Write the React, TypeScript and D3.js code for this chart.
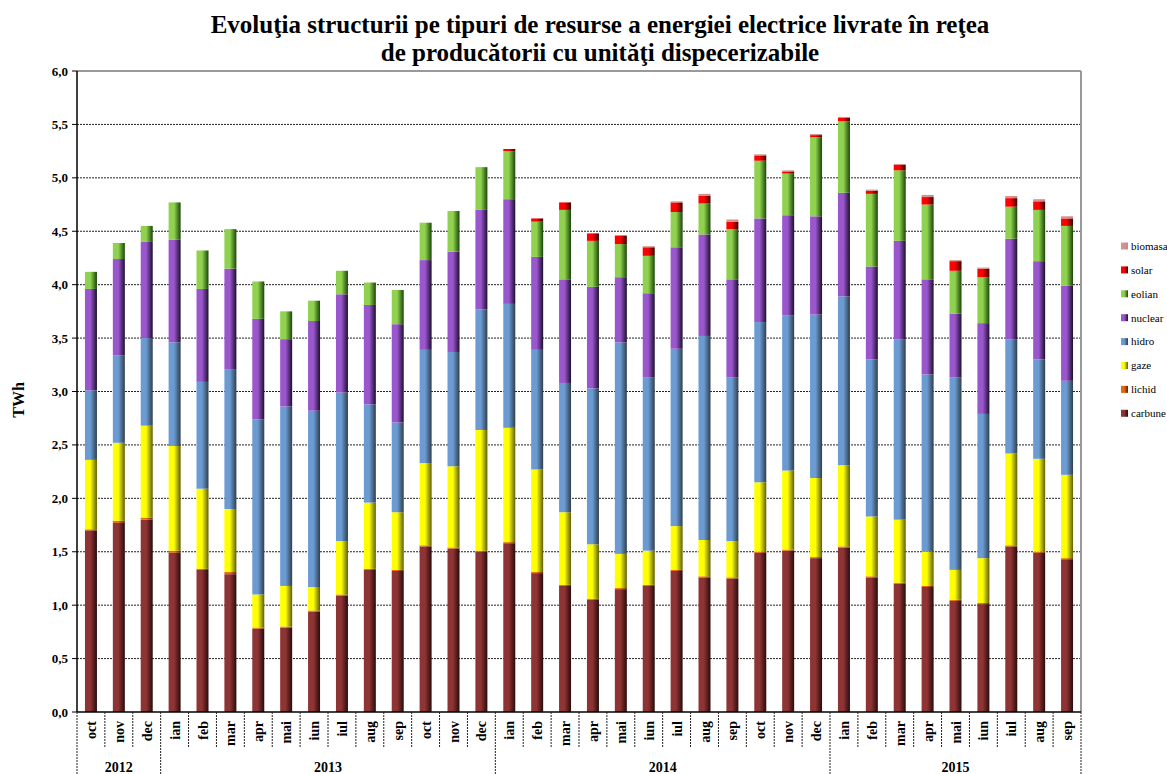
import React from 'react'
import * as d3 from 'd3'

const months = [
  'oct', 'nov', 'dec',
  'ian', 'feb', 'mar', 'apr', 'mai', 'iun', 'iul', 'aug', 'sep', 'oct', 'nov', 'dec',
  'ian', 'feb', 'mar', 'apr', 'mai', 'iun', 'iul', 'aug', 'sep', 'oct', 'nov', 'dec',
  'ian', 'feb', 'mar', 'apr', 'mai', 'iun', 'iul', 'aug', 'sep',
]
const years = ['2012', '2013', '2014', '2015']
const yearMonths = [3, 12, 12, 9]

// TWh per month, per resource
const carbune = [1.70, 1.77, 1.80, 1.49, 1.33, 1.29, 0.78, 0.79, 0.94, 1.09, 1.33, 1.32, 1.55, 1.53, 1.50, 1.58, 1.30, 1.18, 1.05, 1.15, 1.18, 1.32, 1.26, 1.25, 1.49, 1.51, 1.44, 1.54, 1.26, 1.20, 1.17, 1.04, 1.01, 1.55, 1.49, 1.43]
const lichid = [0.01, 0.02, 0.02, 0.02, 0.01, 0.02, 0.01, 0.01, 0.01, 0.01, 0.01, 0.01, 0.01, 0.01, 0.01, 0.01, 0.01, 0.01, 0.01, 0.01, 0.01, 0.01, 0.01, 0.01, 0.01, 0.01, 0.01, 0.01, 0.01, 0.01, 0.01, 0.01, 0.01, 0.01, 0.01, 0.01]
const gaze = [0.65, 0.73, 0.86, 0.98, 0.75, 0.59, 0.31, 0.38, 0.22, 0.50, 0.62, 0.54, 0.77, 0.76, 1.13, 1.07, 0.96, 0.68, 0.51, 0.32, 0.32, 0.41, 0.34, 0.34, 0.65, 0.74, 0.74, 0.76, 0.56, 0.59, 0.32, 0.28, 0.42, 0.86, 0.87, 0.78]
const hidro = [0.65, 0.82, 0.82, 0.97, 1.00, 1.31, 1.64, 1.68, 1.65, 1.39, 0.92, 0.84, 1.06, 1.07, 1.13, 1.16, 1.12, 1.21, 1.46, 1.98, 1.62, 1.66, 1.91, 1.53, 1.50, 1.45, 1.53, 1.58, 1.47, 1.69, 1.66, 1.80, 1.35, 1.07, 0.93, 0.88]
const nuclear = [0.95, 0.90, 0.90, 0.96, 0.87, 0.94, 0.94, 0.63, 0.84, 0.92, 0.93, 0.92, 0.84, 0.94, 0.93, 0.98, 0.87, 0.97, 0.95, 0.61, 0.79, 0.95, 0.95, 0.92, 0.97, 0.94, 0.92, 0.97, 0.87, 0.92, 0.89, 0.60, 0.85, 0.94, 0.92, 0.89]
const eolian = [0.16, 0.15, 0.15, 0.35, 0.36, 0.37, 0.35, 0.26, 0.19, 0.22, 0.21, 0.32, 0.35, 0.38, 0.40, 0.45, 0.33, 0.65, 0.43, 0.31, 0.35, 0.33, 0.29, 0.47, 0.54, 0.39, 0.74, 0.67, 0.68, 0.66, 0.70, 0.40, 0.43, 0.30, 0.48, 0.56]
const solar = [0, 0, 0, 0, 0, 0, 0, 0, 0, 0, 0, 0, 0, 0, 0, 0.02, 0.03, 0.07, 0.07, 0.08, 0.08, 0.09, 0.07, 0.07, 0.05, 0.02, 0.02, 0.03, 0.03, 0.05, 0.07, 0.09, 0.08, 0.08, 0.08, 0.07]
const biomasa = [0, 0, 0, 0, 0, 0, 0, 0, 0, 0, 0, 0, 0, 0, 0, 0, 0, 0, 0, 0, 0.01, 0.01, 0.02, 0.02, 0.01, 0.01, 0.01, 0.01, 0.01, 0.01, 0.02, 0.01, 0.01, 0.02, 0.02, 0.02]

const yTicks = [0, 0.5, 1, 1.5, 2, 2.5, 3, 3.5, 4, 4.5, 5, 5.5, 6]

const series = [
  { key: 'carbune', values: carbune, light: '#8e3434', dark: '#2a0b0b' },
  { key: 'lichid', values: lichid, light: '#e8680c', dark: '#5a2500' },
  { key: 'gaze', values: gaze, light: '#ffff00', dark: '#5e5e00' },
  { key: 'hidro', values: hidro, light: '#6b9bd2', dark: '#2e3f4c' },
  { key: 'nuclear', values: nuclear, light: '#9a56cc', dark: '#1c0f30' },
  { key: 'eolian', values: eolian, light: '#90d24f', dark: '#1a4608' },
  { key: 'solar', values: solar, light: '#ff0000', dark: '#3c0000' },
  { key: 'biomasa', values: biomasa, light: '#d39393', dark: '#c98888' },
]

const W = 1167
const H = 774
const plot = { left: 77, right: 1081, top: 71, bottom: 712 }
const serif = '"Liberation Serif", "Times New Roman", serif'

export default function App() {
  const x = d3.scaleBand<number>()
    .domain(d3.range(months.length))
    .range([plot.left, plot.right])
    .paddingInner(0.57)
    .paddingOuter(0.285)
  const step = x.step()
  const y = d3.scaleLinear().domain([0, 6]).range([plot.bottom, plot.top])

  const rows = months.map((m, i) => {
    const r: Record<string, number> = { i }
    series.forEach(s => { r[s.key] = s.values[i] })
    return r
  })
  const stacked = d3.stack<Record<string, number>>().keys(series.map(s => s.key))(rows)

  const fmt = (v: number) => d3.format('.1f')(v).replace('.', ',')

  // year boundaries in category units
  const yearEdges = [0]
  yearMonths.forEach(n => yearEdges.push(yearEdges[yearEdges.length - 1] + n))
  const edgeX = (k: number) => plot.left + k * step

  return (
    <svg width={W} height={H} style={{ position: 'absolute', left: 0, top: 0, background: '#fff' }}>
      <defs>
        {series.map(s => (
          <linearGradient key={s.key} id={`g-${s.key}`} x1="0" y1="0" x2="1" y2="0">
            <stop offset="0%" stopColor={s.light} />
            <stop offset="45%" stopColor={s.light} />
            <stop offset="100%" stopColor={s.dark} />
          </linearGradient>
        ))}
      </defs>

      <text x={600} y={33} textAnchor="middle" fontFamily={serif} fontWeight="bold" fontSize={25}>
        Evoluţia structurii pe tipuri de resurse a energiei electrice livrate în reţea
      </text>
      <text x={600} y={61} textAnchor="middle" fontFamily={serif} fontWeight="bold" fontSize={25}>
        de producătorii cu unităţi dispecerizabile
      </text>

      {/* grid */}
      {yTicks.filter(t => t > 0 && t < 6).map(t => (
        <line key={t} x1={plot.left} x2={plot.right} y1={y(t)} y2={y(t)}
          stroke="#222" strokeWidth={1} strokeDasharray="2,1" />
      ))}
      <line x1={plot.left} x2={plot.right} y1={y(6)} y2={y(6)} stroke="#999" strokeWidth={2} />
      <line x1={plot.right} x2={plot.right} y1={y(6)} y2={plot.bottom} stroke="#999" strokeWidth={2} />

      {/* bars */}
      {stacked.map(layer => (
        <g key={layer.key} fill={`url(#g-${layer.key})`}>
          {layer.map((d, i) => {
            const h = y(d[0]) - y(d[1])
            if (h <= 0) return null
            return <rect key={i} x={x(i)} y={y(d[1])} width={x.bandwidth()} height={h} />
          })}
        </g>
      ))}

      {/* y axis */}
      <line x1={plot.left} x2={plot.left} y1={plot.top} y2={plot.bottom} stroke="#000" strokeWidth={1.5} />
      {yTicks.map(t => (
        <g key={t}>
          <line x1={plot.left - 5} x2={plot.left} y1={y(t)} y2={y(t)} stroke="#000" />
          <text x={plot.left - 9} y={y(t)} dy="0.35em" textAnchor="end" fontFamily={serif}
            fontWeight="bold" fontSize={13}>{fmt(t)}</text>
        </g>
      ))}
      <text transform={`translate(18,400) rotate(-90)`} textAnchor="middle"
        dy="0.35em" fontFamily={serif} fontWeight="bold" fontSize={16}>TWh</text>

      {/* x axis */}
      <line x1={plot.left} x2={plot.right} y1={plot.bottom} y2={plot.bottom} stroke="#000" strokeWidth={1.5} />
      {d3.range(months.length + 1).map(k => {
        const isYear = yearEdges.includes(k)
        return (
          <line key={k} x1={edgeX(k)} x2={edgeX(k)} y1={plot.bottom} y2={isYear ? H : 748}
            stroke="#222" strokeWidth={1} strokeDasharray="2,1" />
        )
      })}
      {months.map((m, i) => (
        <text key={i} transform={`translate(${x(i)! + x.bandwidth() / 2 + 5},721) rotate(-90)`}
          textAnchor="end" fontFamily={serif} fontWeight="bold" fontSize={14}>{m}</text>
      ))}
      {years.map((yr, k) => (
        <text key={yr} x={(edgeX(yearEdges[k]) + edgeX(yearEdges[k + 1])) / 2} y={772}
          textAnchor="middle" fontFamily={serif} fontWeight="bold" fontSize={14}>{yr}</text>
      ))}

      {/* legend */}
      {series.slice().reverse().map((s, k) => {
        const cy = 246 + k * 23.9
        return (
          <g key={s.key}>
            <rect x={1121} y={cy - 3.5} width={7} height={7} fill={`url(#g-${s.key})`} />
            <text x={1131} y={cy} dy="0.35em" fontFamily={serif} fontSize={11}>{s.key}</text>
          </g>
        )
      })}
    </svg>
  )
}
